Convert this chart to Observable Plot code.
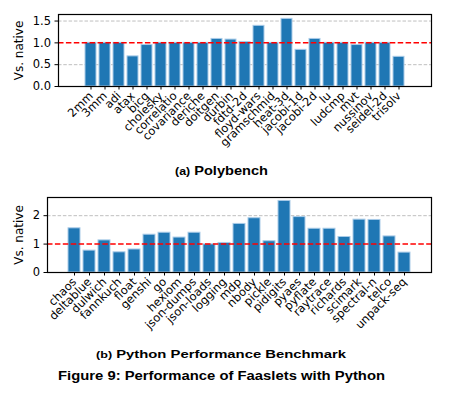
<!DOCTYPE html>
<html><head><meta charset="utf-8">
<script src="https://cdn.jsdelivr.net/npm/d3@7"></script>
<script src="https://cdn.jsdelivr.net/npm/@observablehq/plot@0.6"></script>
<style>
body{margin:0;background:#fff;width:459px;height:397px;position:relative;font-family:"DejaVu Sans",sans-serif;overflow:hidden;}
.p{position:absolute;left:0;}
.cap{position:absolute;white-space:nowrap;font-family:"Liberation Sans",Arial,sans-serif;font-weight:bold;color:#000;transform-origin:0 0;line-height:1;}
.cap small{font-size:0.85em;}
</style></head><body>
<div id="a" class="p" style="top:0"></div>
<div id="capA" class="cap" style="font-size:12px;"><small>(a)</small> Polybench</div>
<div id="b" class="p" style="top:183px"></div>
<div id="capB" class="cap" style="font-size:11.5px;"><small>(b)</small> Python Performance Benchmark</div>
<div id="capF" class="cap" style="font-size:13.5px;">Figure 9: Performance of Faaslets with Python</div>
<script>
const polyNames = ["2mm","3mm","adi","atax","bicg","cholesky","correlatio","covariance","deriche","doitgen","durbin","fdtd-2d","floyd-wars","gramschmid","heat-3d","jacobi-1d","jacobi-2d","lu","ludcmp","mvt","nussinov","seidel-2d","trisolv"];
const polyValues = [1.0,1.0,1.0,0.69,0.95,1.0,1.0,1.0,1.0,1.09,1.075,1.02,1.39,1.0,1.55,0.84,1.09,1.0,1.0,0.95,1.0,1.0,0.68];
const polyTicks = [0,0.5,1.0,1.5];
const polyGrid = [0.5,1.5];

const pyNames = ["chaos","deltablue","dulwich","fannkuch","float","genshi","go","hexiom","json-dumps","json-loads","logging","mdp","nbody","pickle","pidigits","pyaes","pyflate","raytrace","richards","scimark","spectral-n","telco","unpack-seq"];
const pyValues = [1.555,0.77,1.13,0.71,0.81,1.33,1.40,1.23,1.40,0.99,1.04,1.71,1.91,1.10,2.52,1.95,1.54,1.54,1.25,1.86,1.85,1.27,0.70];
const pyTicks = [0,1,2];
const pyGrid = [2];

const baseline = [1];

function chart(names, values, ticks, grid, ymax, fmt, height, mTop, mLeft, mBottom) {
  const data = names.map((n,i)=>({name:n, value:values[i]}));
  return Plot.plot({
    width: 459, height,
    marginLeft: mLeft, marginRight: 28, marginTop: mTop, marginBottom: mBottom,
    style: {fontFamily: "DejaVu Sans, sans-serif", fontSize: "11.5px", color: "#000", background: "#fff"},
    x: {domain: names, paddingInner: 0.2, paddingOuter: 1.14, align: 0.5},
    y: {domain: [0, ymax]},
    marks: [
      Plot.ruleY(grid, {stroke: "#b0b0b0", strokeWidth: 0.8, strokeDasharray: "3.5,1.8"}),
      Plot.barY(data, {x: "name", y: "value", fill: "#1f77b4", stroke: "#a9cbe8", strokeWidth: 1}),
      Plot.ruleY(baseline, {stroke: "#ff0000", strokeWidth: 1.5, strokeDasharray: "5.5,2.4"}),
      Plot.frame({stroke: "#000", strokeWidth: 1.2}),
      Plot.axisY({ticks, tickFormat: fmt, tickSize: 3.5, tickPadding: 4, fontSize: 11.5, label: null}),
      Plot.axisX({tickRotate: -45, tickSize: 3.5, tickPadding: 4, fontSize: 11.5, label: null}),
      Plot.text(["Vs. native"], {frameAnchor: "left", dx: -mLeft + 19, rotate: -90, fontSize: 12, textAnchor: "middle"})
    ]
  });
}

document.getElementById("a").append(chart(polyNames, polyValues, polyTicks, polyGrid, 1.65, d3.format(".1f"), 162, 14, 58, 76));
document.getElementById("b").append(chart(pyNames, pyValues, pyTicks, pyGrid, 2.64, d3.format("d"), 156, 14, 47, 67));

// place captions: left, right, top of box
function fit(id, left, right, top) {
  const el = document.getElementById(id);
  el.style.left = left + "px";
  el.style.top = top + "px";
  const w = el.getBoundingClientRect().width;
  el.style.transform = `scaleX(${(right - left) / w})`;
}
fit("capA", 175, 268, 165);
fit("capB", 96, 346, 349);
fit("capF", 58, 385, 369);
</script>
</body></html>
